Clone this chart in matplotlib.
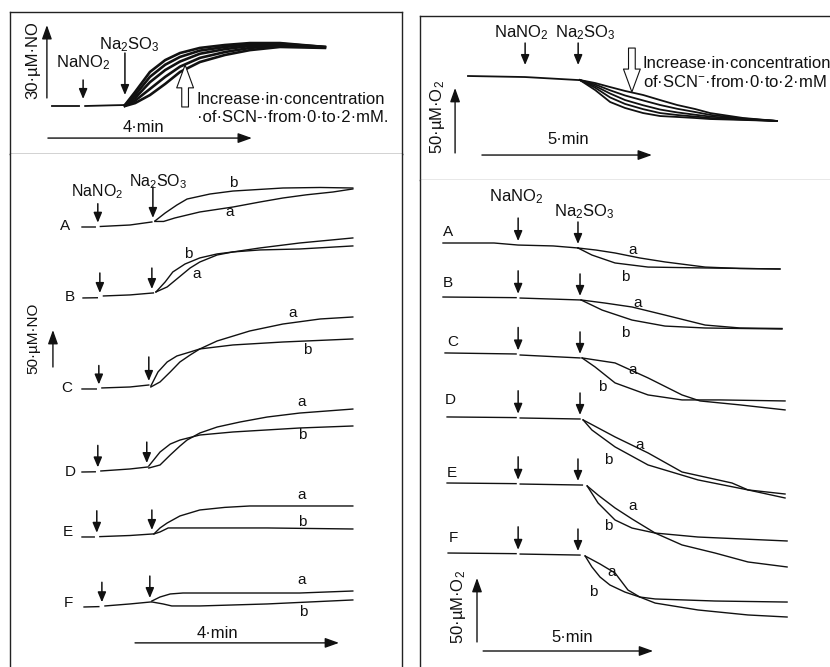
import numpy as np
import matplotlib
matplotlib.use("Agg")
import matplotlib.pyplot as plt

plt.rcParams['font.family'] = ['Liberation Sans', 'DejaVu Sans']
plt.rcParams['mathtext.fontset'] = 'custom'
plt.rcParams['mathtext.rm'] = 'Liberation Sans'
plt.rcParams['mathtext.default'] = 'regular'

nan = np.nan
W, H = 830, 667

# ---------------- NO electrode, SCN- series (time in min, NO in uM) ----------------
scn_nitrite_t = 0.61
scn_sulfite_t = 1.43
scn_base_t = [0, 0.53, nan, 0.65, 1.2, 1.43]
scn_base_c = [0, 0, nan, 0.0, 0.3, 0.4]
scn_t = [1.43, 1.63, 1.92, 2.22, 2.51, 2.90, 3.39, 3.88, 4.47, 5.35]
scn_no = [
    [0.4, 5.8, 14.0, 18.9, 21.8, 23.9, 25.1, 25.9, 25.9, 24.3],
    [0.3, 4.5, 12.0, 17.0, 20.2, 22.8, 24.3, 25.4, 25.6, 24.3],
    [0.2, 3.3, 9.8, 14.8, 18.3, 21.5, 23.4, 24.7, 25.2, 24.2],
    [0.1, 2.2, 7.0, 12.0, 16.2, 19.8, 22.2, 23.9, 24.8, 24.1],
    [0.0, 1.2, 4.5, 9.1, 14.0, 18.1, 21.0, 23.0, 24.3, 23.9],
]

# ---------------- O2 electrode, SCN- series (time in min, O2 change in uM) ----------------
scn_o2_nitrite_t = 1.68
scn_o2_sulfite_t = 3.24
scn_o2_base_t = [0, 1.68, 3.24]
scn_o2_base_c = [0, -0.8, -3.1]
scn_o2_t = [3.29, 3.74, 4.18, 4.62, 5.15, 5.65, 6.15, 6.68, 7.12, 8.09, 9.09]
scn_o2 = [
    [-3.1, -10.8, -20.0, -24.6, -28.5, -30.8, -31.5, -32.3, -33.1, -33.8, -34.6],
    [-3.1, -9.0, -16.5, -21.5, -25.5, -28.5, -30.0, -31.2, -32.3, -33.5, -34.6],
    [-3.1, -7.7, -13.5, -18.5, -22.5, -25.8, -28.0, -29.8, -31.2, -33.1, -34.6],
    [-3.1, -6.5, -11.0, -15.0, -18.8, -22.3, -25.2, -27.7, -29.9, -32.7, -34.6],
    [-3.1, -5.4, -8.5, -11.5, -14.6, -18.5, -22.3, -25.4, -28.5, -32.3, -34.6],
]

# ---------------- NO electrode, conditions A-F, traces a and b ----------------
rows = ['A', 'B', 'C', 'D', 'E', 'F']
no_offset = [0, -95.9, -218.9, -331.1, -418.9, -513.5]
no_nitrite_t = [0.31, 0.35, 0.33, 0.31, 0.29, 0.39]
no_sulfite_t = [1.39, 1.37, 1.31, 1.27, 1.37, 1.33]
no_base_t = [
    [0, 0.26, nan, 0.36, 0.94, 1.37],
    [0.02, 0.30, nan, 0.42, 0.94, 1.40],
    [0, 0.28, nan, 0.39, 0.94, 1.31],
    [0, 0.26, nan, 0.37, 0.94, 1.29],
    [0, 0.24, nan, 0.35, 0.94, 1.39],
    [0.04, 0.33, nan, 0.45, 0.94, 1.35],
]
no_base_c = [
    [0, 0, nan, 0.7, 2.7, 6.8],
    [0, 0.3, nan, 2.7, 4.1, 6.8],
    [0, 0, nan, 1.4, 2.7, 5.4],
    [0, 0.3, nan, 1.4, 4.1, 6.8],
    [0, 0, nan, 0.5, 2.0, 4.1],
    [0, 0.5, nan, 1.4, 4.1, 6.8],
]
no_a_t = [
    [1.43, 1.60, 1.82, 2.31, 2.96, 3.49, 3.94, 4.40, 4.92, 5.31],
    [1.45, 1.67, 1.86, 2.12, 2.31, 2.65, 2.96, 3.49, 4.27, 5.31],
    [1.35, 1.53, 1.73, 1.92, 2.12, 2.31, 2.65, 3.29, 3.94, 4.67, 5.31],
    [1.31, 1.53, 1.73, 1.92, 2.06, 2.31, 2.65, 3.10, 3.63, 4.27, 5.31],
    [1.41, 1.53, 1.67, 1.92, 2.31, 2.80, 3.29, 4.27, 5.31],
    [1.37, 1.53, 1.73, 1.98, 2.96, 4.27, 5.31],
]
no_a_c = [
    [7.5, 7.5, 12.2, 20.3, 27.0, 33.8, 39.2, 43.5, 47.3, 51.4],
    [8.1, 14.9, 25.7, 40.5, 48.6, 58.1, 62.2, 67.6, 74.3, 81.1],
    [2.7, 9.5, 23.0, 36.5, 45.9, 54.1, 64.9, 78.4, 87.8, 94.6, 97.3],
    [5.4, 9.5, 23.0, 35.1, 43.2, 52.7, 60.8, 67.6, 74.3, 79.7, 85.1],
    [4.1, 12.2, 18.9, 28.4, 36.5, 40.0, 41.9, 41.9, 41.9],
    [8.1, 13.5, 17.6, 18.9, 18.9, 18.9, 21.6],
]
no_b_t = [
    [1.43, 1.63, 1.86, 2.06, 2.51, 2.96, 3.94, 4.67, 5.31],
    [1.45, 1.63, 1.78, 2.02, 2.31, 2.65, 2.96, 3.49, 4.27, 5.31],
    [1.35, 1.49, 1.67, 1.86, 2.12, 2.31, 2.96, 3.94, 5.31],
    [1.31, 1.53, 1.73, 1.92, 2.31, 2.96, 4.27, 5.31],
    [1.41, 1.53, 1.69, 2.31, 3.63, 5.31],
    [1.37, 1.59, 1.76, 2.31, 3.63, 5.31],
]
no_b_c = [
    [8.1, 18.9, 29.7, 37.8, 44.6, 48.6, 52.7, 53.4, 52.7],
    [8.1, 21.6, 35.1, 45.9, 54.1, 59.5, 62.2, 64.9, 66.2, 70.3],
    [4.1, 23.0, 36.5, 44.6, 50.0, 54.1, 59.5, 63.5, 67.6],
    [8.1, 27.0, 37.8, 43.2, 50.0, 54.1, 59.5, 62.2],
    [4.1, 6.8, 12.2, 12.2, 12.2, 10.8],
    [6.8, 4.1, 1.4, 1.4, 4.1, 9.5],
]

# ---------------- O2 electrode, conditions A-F, traces a and b ----------------
o2_offset = [0, -42.2, -85.9, -135.9, -187.5, -242.2]
o2_nitrite_t = [2.21, 2.21, 2.21, 2.21, 2.21, 2.21]
o2_sulfite_t = [3.97, 4.03, 4.03, 4.03, 3.97, 3.97]
o2_base_t = [
    [0, 1.5, 2.21, 3.24, 3.97],
    [0, 2.15, nan, 2.27, 4.03],
    [0.06, 2.15, nan, 2.27, 4.03],
    [0.12, 2.15, nan, 2.27, 4.03],
    [0.12, 2.15, nan, 2.27, 4.10],
    [0.15, 2.15, nan, 2.27, 4.03],
]
o2_base_c = [
    [0, 0, -1.6, -2.3, -3.9],
    [0, -0.5, nan, -0.8, -2.3],
    [0, -0.8, nan, -1.6, -3.9],
    [0, -0.5, nan, -0.8, -1.6],
    [0, -0.5, nan, -0.8, -1.6],
    [0, -0.5, nan, -0.8, -1.6],
]
o2_a_t = [
    [3.97, 4.50, 5.06, 5.79, 6.53, 7.71, 8.74, 9.91],
    [4.06, 4.76, 5.56, 6.53, 7.71, 8.74, 9.97],
    [4.09, 5.06, 6.03, 7.03, 7.56, 8.74, 10.06],
    [4.12, 5.06, 6.03, 7.03, 8.50, 8.97, 10.06],
    [4.24, 4.56, 5.06, 5.56, 6.24, 7.03, 8.00, 8.97, 10.12],
    [4.18, 4.62, 5.06, 5.44, 5.79, 6.24, 7.50, 8.97, 10.12],
]
o2_a_c = [
    [-3.9, -5.5, -7.8, -11.7, -14.8, -18.8, -19.9, -20.3],
    [-2.3, -4.7, -7.8, -14.1, -21.9, -24.2, -24.6],
    [-3.9, -7.8, -19.5, -32.8, -37.5, -40.6, -44.5],
    [-2.3, -15.6, -28.1, -43.0, -51.6, -57.0, -63.3],
    [-2.3, -9.4, -19.5, -28.1, -39.1, -48.4, -54.7, -61.7, -65.6],
    [-2.3, -8.6, -15.6, -28.9, -34.4, -39.1, -44.5, -48.4, -50.0],
]
o2_b_t = [
    [3.97, 4.38, 5.06, 6.03, 7.71, 9.91],
    [4.06, 4.68, 5.56, 6.53, 7.71, 9.97],
    [4.09, 4.47, 5.06, 6.03, 7.03, 8.15, 10.06],
    [4.12, 4.38, 5.06, 6.03, 7.50, 8.97, 10.06],
    [4.24, 4.56, 5.06, 5.56, 6.24, 7.50, 10.12],
    [4.18, 4.38, 4.62, 4.91, 5.35, 5.79, 6.24, 8.00, 10.12],
]
o2_b_c = [
    [-3.9, -9.4, -15.6, -18.8, -19.5, -20.3],
    [-2.3, -10.2, -18.0, -22.7, -24.2, -25.0],
    [-3.9, -10.9, -23.4, -32.8, -36.7, -36.7, -37.5],
    [-2.3, -10.2, -23.4, -37.5, -49.2, -57.0, -60.2],
    [-2.3, -15.6, -28.9, -35.2, -39.1, -42.2, -45.3],
    [-2.3, -10.9, -18.8, -25.0, -30.5, -34.4, -35.9, -37.5, -38.3],
]

INK = '#111111'
fig = plt.figure(figsize=(W / 100, H / 100), dpi=100)


def panel(L, T, R, B, x0, ppm, y0, ppu):
    # axes box given in pixels; x0/y0 is where t=0 / c=0 sits, ppm/ppu the scale
    ax = fig.add_axes([L / W, 1 - B / H, (R - L) / W, (B - T) / H])
    ax.set_xlim((L - x0) / ppm, (R - x0) / ppm)
    ax.set_ylim((y0 - B) / ppu, (y0 - T) / ppu)
    ax.set_xticks([])
    ax.set_yticks([])
    for s in ax.spines.values():
        s.set_linewidth(1.0)
        s.set_color('#222222')
    return ax


def ftext(x, y, s, size=12, **kw):
    kw.setdefault('ha', 'center')
    kw.setdefault('va', 'center')
    fig.text(x / W, 1 - y / H, s, fontsize=size, color=INK, **kw)


def base_at(t_arr, c_arr, t):
    t_arr = np.asarray(t_arr, float)
    c_arr = np.asarray(c_arr, float)
    m = ~np.isnan(c_arr)
    return np.interp(t, t_arr[m], c_arr[m])


def inject(ax, t, c, length, gap=4):
    ax.annotate('', xy=(t, c), xytext=(0, length + gap), textcoords='offset pixels',
                arrowprops=dict(arrowstyle='-|>,head_length=0.6,head_width=0.25',
                                color=INK, lw=1.1, shrinkA=0, shrinkB=gap * 0.72,
                                mutation_scale=10))


def scale_arrow(ax, start, end):
    ax.annotate('', xy=end, xytext=start,
                arrowprops=dict(arrowstyle='-|>,head_length=0.7,head_width=0.25',
                                color=INK, lw=1.0, shrinkA=0, shrinkB=0,
                                mutation_scale=12))


def open_arrow(ax, tail, tip):
    ax.annotate('', xy=tip, xytext=tail,
                arrowprops=dict(arrowstyle='simple,head_length=0.75,head_width=0.55,tail_width=0.22',
                                fc='white', ec=INK, lw=0.8, shrinkA=0, shrinkB=0,
                                mutation_scale=22))


# ---- top left: NO, SCN- concentration series ----
ax1 = panel(10, 12, 402, 154, 52, 51, 106, 2.43)
ax1.plot(scn_base_t, scn_base_c, color=INK, lw=1.3)
for c in scn_no:
    ax1.plot(scn_t, c, color=INK, lw=1.9)
inject(ax1, scn_nitrite_t, base_at(scn_base_t, scn_base_c, scn_nitrite_t), 19, gap=7)
inject(ax1, scn_sulfite_t, base_at(scn_base_t, scn_base_c, scn_sulfite_t), 42, gap=10)
scale_arrow(ax1, (-0.1, 3.3), (-0.1, 33.3))
scale_arrow(ax1, (-0.08, -13.2), (3.92, -13.2))
open_arrow(ax1, (2.61, -0.4), (2.61, 16.9))

ftext(83, 63, 'NaNO$_2$')
ftext(129, 45, 'Na$_2$SO$_3$')
ftext(33, 60, '30\u00b7\u00b5M\u00b7NO', rotation=90)
ftext(143, 128, '4\u00b7min')
ftext(196, 99, 'Increase\u00b7in\u00b7concentration', ha='left')
ftext(197, 118, '\u00b7of\u00b7SCN-\u00b7from\u00b70\u00b7to\u00b72\u00b7mM.', ha='left')

# ---- top right: O2, SCN- concentration series ----
ax2 = panel(420, 16, 832, 180, 468, 34, 76, 1.3)
ax2.spines['right'].set_visible(False)
ax2.spines['bottom'].set_color('#8a8a8a')
ax2.plot(scn_o2_base_t, scn_o2_base_c, color=INK, lw=1.3)
for c in scn_o2:
    ax2.plot(scn_o2_t, c, color=INK, lw=1.3)
inject(ax2, scn_o2_nitrite_t, base_at(scn_o2_base_t, scn_o2_base_c, scn_o2_nitrite_t), 22, gap=12)
inject(ax2, scn_o2_sulfite_t, base_at(scn_o2_base_t, scn_o2_base_c, scn_o2_sulfite_t), 22, gap=15)
scale_arrow(ax2, (-0.38, -59.2), (-0.38, -9.2))
scale_arrow(ax2, (0.41, -60.8), (5.41, -60.8))
open_arrow(ax2, (4.82, 21.5), (4.82, -12.3))

ftext(521, 33, 'NaNO$_2$')
ftext(585, 33, 'Na$_2$SO$_3$')
ftext(437, 117, '50\u00b7\u00b5M\u00b7O$_2$', rotation=90)
ftext(568, 140, '5\u00b7min')
ftext(642, 63, 'Increase\u00b7in\u00b7concentration', ha='left')
ftext(643, 82, 'of\u00b7SCN$^{-}$\u00b7from\u00b70\u00b7to\u00b72\u00b7mM', ha='left')

# ---- bottom left: NO, conditions A-F ----
ax3 = panel(10, 154, 402, 669, 82, 51, 227, 0.74)
ax3.spines['top'].set_visible(False)
ax3.spines['bottom'].set_visible(False)
no_nitrite_len = [19, 20, 19, 22, 22, 20]
no_sulfite_len = [31, 21, 24, 21, 20, 22]
for i in range(len(rows)):
    off = no_offset[i]
    bt = no_base_t[i]
    bc = np.asarray(no_base_c[i], float)
    ax3.plot(bt, bc + off, color=INK, lw=1.0)
    ax3.plot(no_a_t[i], np.asarray(no_a_c[i]) + off, color=INK, lw=1.0)
    ax3.plot(no_b_t[i], np.asarray(no_b_c[i]) + off, color=INK, lw=1.0)
    inject(ax3, no_nitrite_t[i], base_at(bt, bc, no_nitrite_t[i]) + off, no_nitrite_len[i])
    inject(ax3, no_sulfite_t[i], base_at(bt, bc, no_sulfite_t[i]) + off, no_sulfite_len[i])
scale_arrow(ax3, (-0.57, -189.2), (-0.57, -139.2))
scale_arrow(ax3, (1.04, -562), (5.04, -562))

ftext(97, 192, 'NaNO$_2$', size=11.5)
ftext(158, 182, 'Na$_2$SO$_3$', size=11.5)
ftext(33, 338, '50\u00b7\u00b5M\u00b7NO', size=11, rotation=90)
ftext(217, 633, '4\u00b7min')
no_row_xy = [(65, 226), (70, 297), (67, 388), (70, 472), (68, 532), (68, 603)]
no_a_xy = [(230, 212), (197, 274), (293, 313), (302, 402), (302, 495), (302, 580)]
no_b_xy = [(233, 183), (188, 254), (307, 350), (302, 435), (302, 522), (303, 612)]
for i, r in enumerate(rows):
    ftext(*no_row_xy[i], r, size=11)
    ftext(*no_a_xy[i], 'a', size=11)
    ftext(*no_b_xy[i], 'b', size=11)

# ---- bottom right: O2, conditions A-F ----
ax4 = panel(420, 180, 832, 669, 443, 34, 243, 1.28)
for s in ('top', 'right', 'bottom'):
    ax4.spines[s].set_visible(False)
for i in range(len(rows)):
    off = o2_offset[i]
    bt = o2_base_t[i]
    bc = np.asarray(o2_base_c[i], float)
    ax4.plot(bt, bc + off, color=INK, lw=1.0)
    ax4.plot(o2_a_t[i], np.asarray(o2_a_c[i]) + off, color=INK, lw=1.0)
    ax4.plot(o2_b_t[i], np.asarray(o2_b_c[i]) + off, color=INK, lw=1.0)
    inject(ax4, o2_nitrite_t[i], base_at(bt, bc, o2_nitrite_t[i]) + off, 23)
    inject(ax4, o2_sulfite_t[i], base_at(bt, bc, o2_sulfite_t[i]) + off, 22)
scale_arrow(ax4, (1.0, -311.7), (1.0, -261.7))
scale_arrow(ax4, (1.18, -318.75), (6.18, -318.75))

ftext(516, 197, 'NaNO$_2$')
ftext(584, 212, 'Na$_2$SO$_3$')
ftext(458, 607, '50\u00b7\u00b5M\u00b7O$_2$', rotation=90)
ftext(572, 637, '5\u00b7min')
o2_row_xy = [(448, 232), (448, 283), (453, 342), (450, 400), (452, 473), (453, 538)]
o2_a_xy = [(633, 250), (638, 303), (633, 370), (640, 445), (633, 506), (612, 572)]
o2_b_xy = [(625, 277), (625, 333), (602, 387), (608, 460), (608, 526), (593, 592)]
for i, r in enumerate(rows):
    ftext(*o2_row_xy[i], r, size=11)
    ftext(*o2_a_xy[i], 'a', size=11)
    ftext(*o2_b_xy[i], 'b', size=11)

fig.savefig('out.png', dpi=100)
